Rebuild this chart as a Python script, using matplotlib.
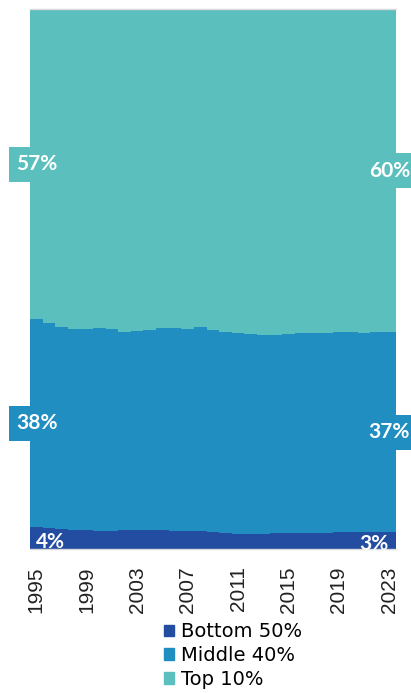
import numpy as np
import matplotlib.pyplot as plt
from matplotlib.patches import Patch
from matplotlib.transforms import blended_transform_factory

# Shares of wealth (%) by group
years = list(range(1995, 2024))
bottom50 = [4.07, 3.98, 3.79, 3.66, 3.55, 3.48, 3.48, 3.52, 3.55, 3.61,
            3.55, 3.48, 3.42, 3.33, 3.18, 3.05, 2.92, 2.87, 2.90, 2.96,
            3.00, 3.05, 3.09, 3.11, 3.15, 3.18, 3.20, 3.24, 3.24]
top10 = [57.45, 58.1, 58.9, 59.3, 59.2, 59.0, 59.2, 59.8, 59.6, 59.4,
         59.0, 59.0, 59.3, 58.8, 59.4, 59.8, 59.9, 60.1, 60.3, 60.4,
         60.1, 59.9, 60.0, 59.9, 59.8, 59.7, 59.9, 59.8, 59.8]
middle40 = [100 - b - t for b, t in zip(bottom50, top10)]
tick_years = [1995, 1999, 2003, 2007, 2011, 2015, 2019, 2023]
labels = ['Bottom 50%', 'Middle 40%', 'Top 10%']
colors = ['#234DA0', '#208EC0', '#5BBFBE']

bottom50 = np.array(bottom50)
middle40 = np.array(middle40)
top10 = np.array(top10)

fig = plt.figure(figsize=(4.11, 6.93), dpi=100)
ax = fig.add_axes([0.073, 0.2071, 0.8898, 0.78])

edges = np.append(np.array(years) - 0.5, years[-1] + 0.5)
base = np.zeros(len(years))
for vals, c in zip([bottom50, middle40, top10], colors):
    ax.stairs(base + vals, edges, baseline=base, fill=True, color=c, linewidth=0)
    base = base + vals

ax.set_xlim(1994.5, 2023.5)
ax.set_ylim(0, 100)
ax.set_yticks([])
ax.set_xticks(tick_years)
ax.set_xticklabels([str(y) for y in tick_years], rotation=90,
                   fontfamily='Liberation Sans', fontsize=15, color='#222222')
ax.tick_params(axis='x', length=0, pad=12)
for s in ['left', 'right']:
    ax.spines[s].set_visible(False)
for s in ['top', 'bottom']:
    ax.spines[s].set_color('#d9d9d9')
    ax.spines[s].set_linewidth(1)

# end labels
tr = blended_transform_factory(ax.transAxes, ax.transData)
font = dict(fontfamily='Lato', fontweight='bold', fontsize=15, color='white')

mid_first = [bottom50[0] / 2, bottom50[0] + middle40[0] / 2,
             bottom50[0] + middle40[0] + top10[0] / 2]
mid_last = [bottom50[-1] / 2, bottom50[-1] + middle40[-1] / 2,
            bottom50[-1] + middle40[-1] + top10[-1] / 2]
first = [bottom50[0], middle40[0], top10[0]]
last = [bottom50[-1], middle40[-1], top10[-1]]

for i in range(3):
    box_l = None
    box_r = None
    if i > 0:
        box_l = dict(boxstyle='square,pad=0.36', fc=colors[i], ec='none')
        box_r = dict(boxstyle='square,pad=0.36', fc=colors[i], ec='none')
    xl = -0.038 if i > 0 else 0.017
    xr = 1.039 if i > 0 else 0.979
    dy = -0.6 if i == 0 else 0
    ax.text(xl, mid_first[i] + dy, f'{first[i]:.0f}%',
            transform=tr, ha='left', va='center', bbox=box_l, clip_on=False, **font)
    ax.text(xr, mid_last[i] + dy, f'{last[i]:.0f}%',
            transform=tr, ha='right', va='center', bbox=box_r, clip_on=False, **font)

handles = [Patch(color=c) for c in colors]
fig.legend(handles, labels, loc='upper left', bbox_to_anchor=(0.398, 0.102),
           frameon=False, handlelength=0.55, handleheight=0.55, handletextpad=0.35,
           labelspacing=0.25, borderaxespad=0, borderpad=0,
           prop={'family': 'DejaVu Sans', 'size': 14})

fig.savefig('out.png', dpi=100)
